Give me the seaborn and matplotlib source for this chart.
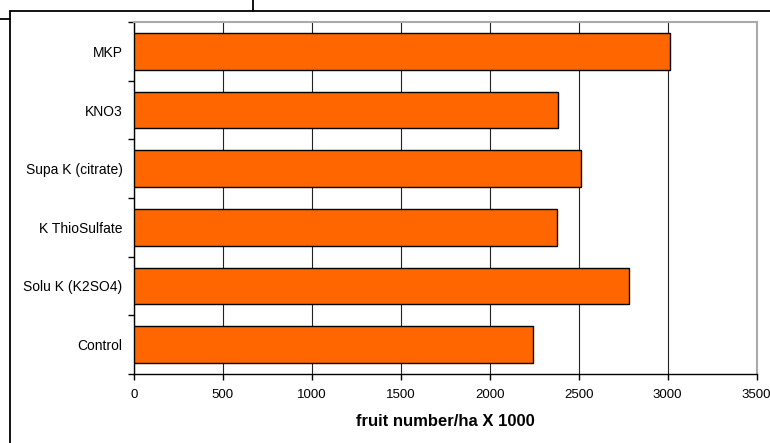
import matplotlib
matplotlib.use("Agg")
import matplotlib.pyplot as plt
import seaborn as sns
import pandas as pd
from matplotlib.lines import Line2D
from matplotlib.ticker import FixedLocator
from matplotlib.transforms import ScaledTranslation

categories = ["MKP", "KNO3", "Supa K (citrate)", "K ThioSulfate", "Solu K (K2SO4)", "Control"]
values = [3015, 2386, 2511, 2380, 2781, 2242]
xticks = [0, 500, 1000, 1500, 2000, 2500, 3000, 3500]
xlabel = "fruit number/ha X 1000"

sns.set_theme(style="white")
plt.rcParams['font.family'] = ['Liberation Sans', 'DejaVu Sans']

W, H = 770, 443
fig = plt.figure(figsize=(W / 100, H / 100), dpi=100)
ax = fig.add_axes([133.7 / W, 1 - 374 / H, (756.7 - 133.7) / W, (374 - 22) / H])

df = pd.DataFrame({"cat": categories, "val": values})
sns.barplot(data=df, x="val", y="cat", order=categories, color="#FF6600",
            saturation=1, edgecolor="black", linewidth=1, width=0.62, ax=ax, zorder=3)

ax.set_xlim(0, 3500)
ax.set_ylim(len(categories) - 0.5, -0.5)
ax.set_xticks(xticks)
ax.set_xticklabels([str(t) for t in xticks], fontsize=9.5, color="black")
shift = ScaledTranslation(-2.5 / 100, 0, fig.dpi_scale_trans)
for lab in ax.get_xticklabels():
    lab.set_transform(lab.get_transform() + shift)
ax.xaxis.grid(True, color="#222222", linewidth=0.8, zorder=0)
ax.yaxis.grid(False)
ax.set_axisbelow(True)

ax.yaxis.set_minor_locator(FixedLocator([i - 0.5 for i in range(len(categories) + 1)]))
ax.tick_params(axis="y", which="major", length=0, pad=8, labelsize=10, labelcolor="black")
ax.tick_params(axis="y", which="minor", length=4, width=1, color="black", direction="out", left=True)
ax.tick_params(axis="x", which="major", length=4, width=1, color="black", direction="out", bottom=True, pad=7)

ax.set_ylabel("")
ax.set_xlabel(xlabel, fontsize=12, fontweight="bold", labelpad=9, color="black")

for s in ["left", "bottom"]:
    ax.spines[s].set_color("black")
    ax.spines[s].set_linewidth(1)
for s in ["top", "right"]:
    ax.spines[s].set_color("#AAAAAA")
    ax.spines[s].set_linewidth(1.5)

def fx(px):
    return px / W

def fy(py):
    return 1 - py / H

lines = [
    ([fx(9.7), fx(770)], [fy(11.3), fy(11.3)]),
    ([fx(9.7), fx(9.7)], [fy(11.3), fy(443)]),
    ([fx(0), fx(9.7)], [fy(19), fy(19)]),
    ([fx(253), fx(253)], [fy(0), fy(11.3)]),
]
for xs, ys in lines:
    fig.add_artist(Line2D(xs, ys, transform=fig.transFigure, color="black", linewidth=1.3))

fig.savefig("out.png", dpi=100)
